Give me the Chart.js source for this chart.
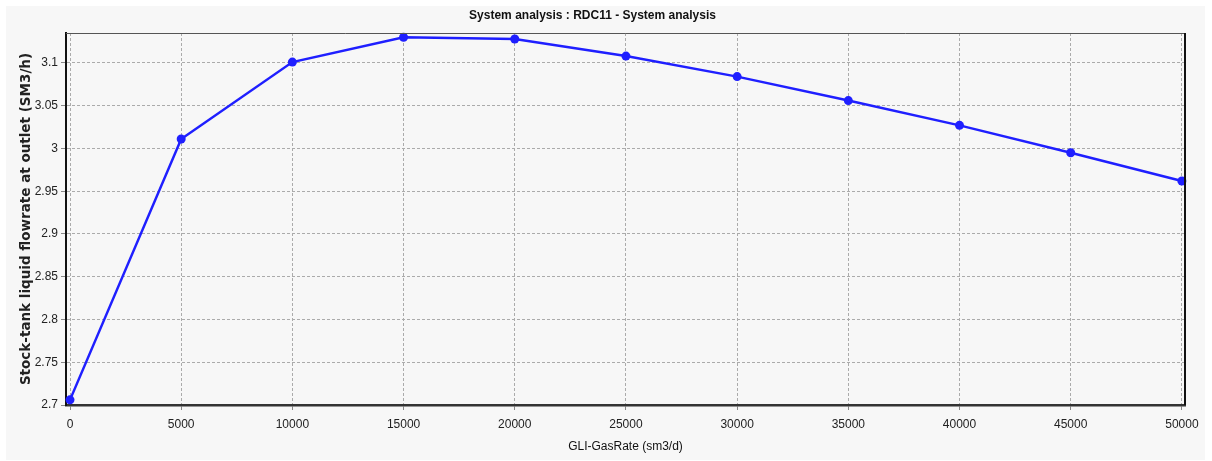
<!DOCTYPE html>
<html>
<head>
<meta charset="utf-8">
<script src="https://cdn.jsdelivr.net/npm/chart.js@4/dist/chart.umd.min.js"></script>
<style>
  html, body { margin: 0; padding: 0; background: #ffffff; }
  #wrap { width: 1212px; height: 461px; position: relative; }
</style>
</head>
<body>
<div id="wrap"><canvas id="c" width="1212" height="461"></canvas></div>
<script>
const chartTitle = "System analysis : RDC11 - System analysis";
const xTitle = "GLI-GasRate (sm3/d)";
const yTitle = "Stock-tank liquid flowrate at outlet (SM3/h)";
const gasRate = [0, 5000, 10000, 15000, 20000, 25000, 30000, 35000, 40000, 45000, 50000];
const liquidRate = [2.706, 3.011, 3.101, 3.130, 3.128, 3.108, 3.084, 3.056, 3.027, 2.995, 2.962];
const xTickValues = [0, 5000, 10000, 15000, 20000, 25000, 30000, 35000, 40000, 45000, 50000];
const yTickValues = [2.7, 2.75, 2.8, 2.85, 2.9, 2.95, 3, 3.05, 3.1];
const yTickLabels = ["2.7", "2.75", "2.8", "2.85", "2.9", "2.95", "3", "3.05", "3.1"];

const SANS = "'Liberation Sans', Arial, sans-serif";

const bgPlugin = {
  id: 'bg',
  beforeDraw(chart) {
    const ctx = chart.ctx;
    ctx.save();
    ctx.fillStyle = '#ffffff';
    ctx.fillRect(0, 0, chart.width, chart.height);
    ctx.fillStyle = '#f7f7f7';
    ctx.fillRect(6, 6, 1199, 454);
    ctx.restore();
  },
  afterDraw(chart) {
    const a = chart.chartArea, ctx = chart.ctx;
    ctx.save();
    ctx.setLineDash([]);
    ctx.strokeStyle = '#555555';
    ctx.lineWidth = 1;
    ctx.beginPath();
    ctx.moveTo(a.left, a.top + 0.5);
    ctx.lineTo(a.right, a.top + 0.5);
    ctx.stroke();
    ctx.strokeStyle = '#111111';
    ctx.lineWidth = 2;
    ctx.beginPath();
    ctx.moveTo(a.right, a.top);
    ctx.lineTo(a.right, a.bottom);
    ctx.stroke();
    ctx.restore();
  }
};

new Chart(document.getElementById('c'), {
  type: 'line',
  data: {
    datasets: [{
      data: gasRate.map((x, i) => ({ x: x, y: liquidRate[i] })),
      borderColor: '#1f1fff',
      backgroundColor: '#1f1fff',
      borderWidth: 2.5,
      pointRadius: 4.5,
      pointHoverRadius: 4.5,
      pointBackgroundColor: '#1f1fff',
      pointBorderWidth: 0,
      tension: 0,
      clip: false
    }]
  },
  options: {
    responsive: false,
    animation: false,
    devicePixelRatio: 1,
    layout: { padding: { left: 0, right: 27, top: 0, bottom: 0 } },
    plugins: {
      legend: { display: false },
      tooltip: { enabled: false },
      title: {
        display: true,
        text: chartTitle,
        color: '#111111',
        font: { family: SANS, size: 12, weight: 'bold', lineHeight: 1.2 },
        padding: { top: 8, bottom: 10.6 }
      }
    },
    scales: {
      x: {
        type: 'linear',
        min: -180,
        max: 50140,
        afterFit(scale) { scale.height = 56; },
        afterBuildTicks(scale) { scale.ticks = xTickValues.map(v => ({ value: v })); },
        ticks: {
          color: '#222222',
          font: { family: SANS, size: 12 },
          padding: 7,
          maxRotation: 0,
          autoSkip: false,
          callback: (v) => String(v)
        },
        grid: {
          color: '#ababab',
          lineWidth: 1,
          tickLength: 5,
          tickColor: '#888888',
          tickBorderDash: [],
          drawTicks: true
        },
        border: { display: true, color: '#333333', width: 2.5, dash: [3, 2] },
        title: {
          display: true,
          text: xTitle,
          color: '#111111',
          font: { family: SANS, size: 12, lineHeight: 1.2 },
          padding: { top: 0, bottom: 7 }
        }
      },
      y: {
        type: 'linear',
        min: 2.7,
        max: 3.135,
        afterFit(scale) { scale.width = 66; },
        afterBuildTicks(scale) { scale.ticks = yTickValues.map(v => ({ value: v })); },
        ticks: {
          color: '#222222',
          font: { family: SANS, size: 12 },
          padding: 3,
          autoSkip: false,
          callback: (v, i) => yTickLabels[i]
        },
        grid: {
          color: '#ababab',
          lineWidth: 1,
          tickLength: 5,
          tickColor: '#888888',
          tickBorderDash: []
        },
        border: { display: true, color: '#111111', width: 2, dash: [3, 2] },
        title: {
          display: true,
          text: yTitle,
          color: '#222222',
          font: { family: "'DejaVu Sans', sans-serif", size: 13.5, weight: 'bold', lineHeight: 1.2 },
          padding: { top: 18, bottom: 0 }
        }
      }
    }
  },
  plugins: [bgPlugin]
});
</script>
</body>
</html>
